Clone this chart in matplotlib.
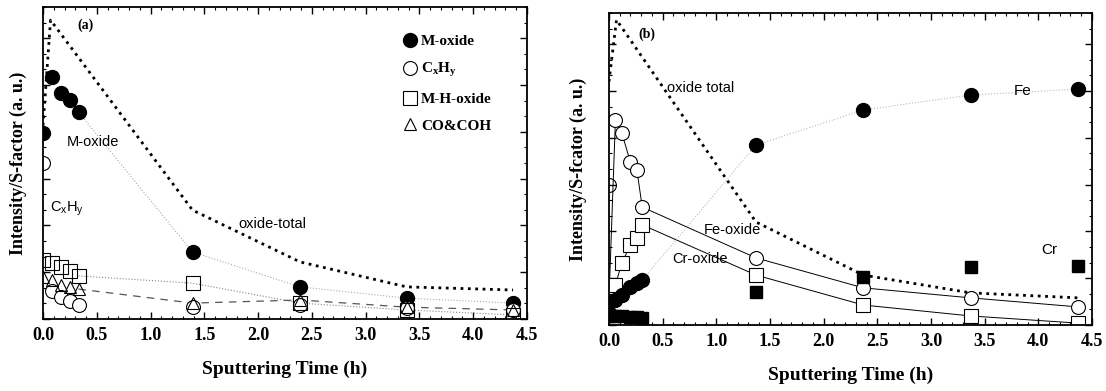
import numpy as np
import matplotlib
matplotlib.use("Agg")
import matplotlib.pyplot as plt
from matplotlib.ticker import MultipleLocator, NullFormatter

plt.rcParams["font.family"] = "Liberation Serif"
plt.rcParams["mathtext.default"] = "regular"

# ── panel (a) data (arbitrary units, 0-100 of the axis height) ──
t_a = [0, 0.08, 0.17, 0.25, 0.33, 1.39, 2.39, 3.38, 4.37]
m_oxide = [59.6, 77.6, 72.4, 70.2, 66.3, 21.5, 10.3, 6.7, 5.1]
cxhy = [50.0, 9.0, 7.0, 5.8, 4.5, 3.8, 4.5, 3.5, 3.0]
m_h_oxide = [18.9, 17.9, 16.7, 15.4, 13.8, 11.5, 5.1, 2.9, 1.3]
co_coh = [13.5, 12.5, 10.9, 10.3, 9.6, 5.1, 6.1, 3.8, 2.9]
t_tot_a = [0, 0.07, 1.39, 2.39, 3.38, 4.37]
tot_a = [62.0, 95.8, 34.9, 18.3, 10.3, 9.3]

# ── panel (b) data ──
t_b = [0, 0.06, 0.12, 0.2, 0.26, 0.31, 1.37, 2.37, 3.37, 4.37]
fe_oxide = [8.0, 65.7, 61.5, 52.2, 49.7, 37.8, 21.5, 11.9, 8.7, 5.8]
fe_oxide_t0 = 44.9
cr_oxide = [3.0, 12.8, 19.9, 25.6, 27.9, 32.1, 16.0, 6.4, 2.9, 0.6]
fe = [4.0, 8.0, 9.6, 12.2, 13.5, 14.4, 57.7, 68.9, 73.7, 75.6]
cr = [3.0, 3.0, 2.8, 2.5, 2.5, 2.2, 10.6, 15.4, 18.6, 18.9]
t_tot_b = [0, 0.07, 1.37, 2.37, 3.37, 4.37]
tot_b = [78.0, 97.8, 33.0, 16.0, 10.3, 8.7]

fig = plt.figure(figsize=(11.06, 3.91), dpi=100)
ax1 = fig.add_axes([0.0389, 0.1841, 0.4376, 0.798])
ax2 = fig.add_axes([0.5506, 0.1688, 0.4367, 0.798])

for ax in (ax1, ax2):
    ax.set_xlim(0, 4.5)
    ax.set_ylim(0, 100)
    ax.xaxis.set_major_locator(MultipleLocator(0.5))
    ax.xaxis.set_minor_locator(MultipleLocator(0.1))
    ax.yaxis.set_major_locator(MultipleLocator(15))
    ax.yaxis.set_minor_locator(MultipleLocator(5))
    ax.yaxis.set_major_formatter(NullFormatter())
    ax.tick_params(which="both", direction="in", top=True, right=True)
    ax.tick_params(which="major", length=5, width=1)
    ax.tick_params(which="minor", length=2.5, width=0.8)
    ax.tick_params(axis="x", labelsize=13, pad=6)
    for lab in ax.get_xticklabels():
        lab.set_fontweight("bold")
    for s in ax.spines.values():
        s.set_linewidth(1.3)
    ax.set_xlabel("Sputtering Time (h)", fontsize=14, fontweight="bold", labelpad=12)

ax1.set_ylabel("Intensity/S-factor (a. u.)", fontsize=13, fontweight="bold", labelpad=8)
ax2.set_ylabel("Intensity/S-fcator (a. u.)", fontsize=13, fontweight="bold", labelpad=12)

# panel (a)
ax1.plot(t_tot_a, tot_a, ls=":", color="black", lw=2.0)
ax1.plot(t_a[4:], m_oxide[4:], ls=":", color="#aaaaaa", lw=0.8)
ax1.plot(t_a[4:], m_h_oxide[4:], ls=":", color="#888888", lw=0.8)
ax1.plot(t_a[4:], co_coh[4:], ls=(0, (6, 5)), color="#555555", lw=0.9)
ax1.plot(t_a, m_oxide, "o", color="black", ms=10, ls="none", label="M-oxide")
ax1.plot(t_a, cxhy, "o", mfc="white", mec="black", mew=0.8, ms=10, ls="none", label="C$_x$H$_y$")
ax1.plot(t_a, m_h_oxide, "s", mfc="none", mec="black", mew=0.8, ms=10, ls="none", label="M-H-oxide")
ax1.plot(t_a, co_coh, "^", mfc="none", mec="black", mew=0.8, ms=9, ls="none", label="CO&COH")
leg = ax1.legend(loc="upper left", bbox_to_anchor=(0.715, 0.955), frameon=False,
                 prop={"family": "Liberation Serif", "weight": "bold", "size": 11},
                 handletextpad=0.2, labelspacing=0.85, handlelength=1.0)
ax1.text(0.07, 0.93, "(a)", transform=ax1.transAxes, fontsize=10, fontweight="bold")
ax1.text(0.46, 56.7, "M-oxide", family="Liberation Sans", fontsize=10.5, ha="center", va="center")
ax1.text(0.22, 35.3, "C$_x$H$_y$", family="Liberation Sans", fontsize=10.5, ha="center", va="center")
ax1.text(2.13, 30.4, "oxide-total", family="Liberation Sans", fontsize=10.5, ha="center", va="center")

# panel (b)
ax2.plot(t_tot_b, tot_b, ls=":", color="black", lw=2.0)
ax2.plot(t_b, fe_oxide, "-", color="black", lw=0.7)
ax2.plot(t_b, cr_oxide, "-", color="black", lw=0.7)
ax2.plot(t_b[5:], fe[5:], ls=":", color="#bbbbbb", lw=0.8)
ax2.plot(t_b[1:], fe_oxide[1:], "o", mfc="white", mec="black", mew=0.8, ms=10, ls="none")
ax2.plot([t_b[0]], [fe_oxide_t0], "o", mfc="none", mec="black", mew=0.8, ms=10, ls="none")
ax2.plot(t_b[1:], cr_oxide[1:], "s", mfc="white", mec="black", mew=0.8, ms=10, ls="none")
ax2.plot(t_b, fe, "o", color="black", ms=10, ls="none")
ax2.plot(t_b, cr, "s", color="black", ms=9, ls="none")
ax2.text(0.06, 0.92, "(b)", transform=ax2.transAxes, fontsize=10, fontweight="bold")
ax2.text(0.85, 76.0, "oxide total", family="Liberation Sans", fontsize=10.5, ha="center", va="center")
ax2.text(3.85, 75.0, "Fe", family="Liberation Sans", fontsize=11, ha="center", va="center")
ax2.text(4.1, 24.0, "Cr", family="Liberation Sans", fontsize=11, ha="center", va="center")
ax2.text(1.15, 30.5, "Fe-oxide", family="Liberation Sans", fontsize=10.5, ha="center", va="center")
ax2.text(0.85, 21.0, "Cr-oxide", family="Liberation Sans", fontsize=10.5, ha="center", va="center")

fig.savefig("out.png", dpi=100)
